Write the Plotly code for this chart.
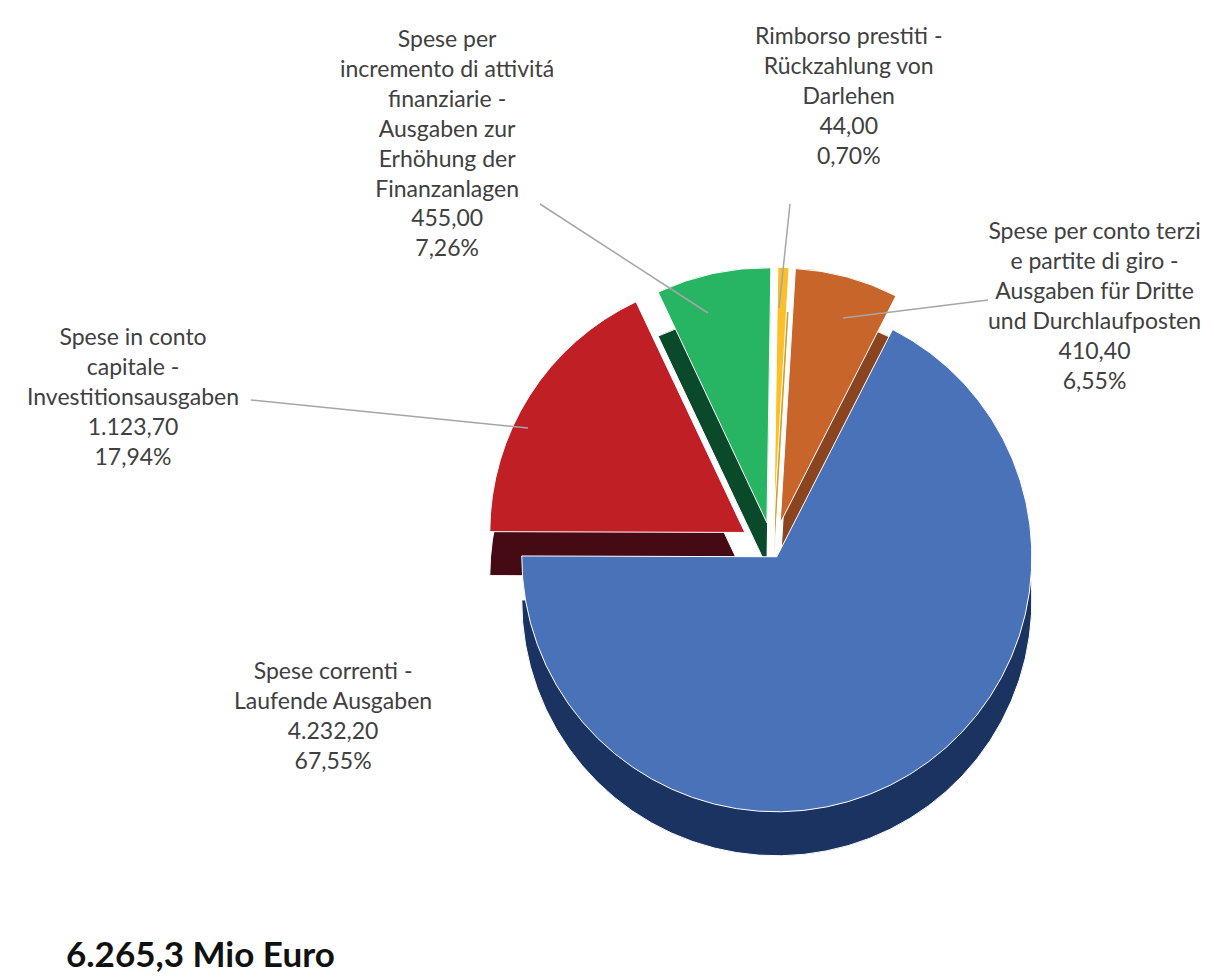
import plotly.graph_objects as go

# ---- data ----
labels = [
    "Spese correnti -<br>Laufende Ausgaben",
    "Spese in conto<br>capitale -<br>Investitionsausgaben",
    "Spese per<br>incremento di attivitá<br>finanziarie -<br>Ausgaben zur<br>Erhöhung der<br>Finanzanlagen",
    "Rimborso prestiti -<br>Rückzahlung von<br>Darlehen",
    "Spese per conto terzi<br>e partite di giro -<br>Ausgaben für Dritte<br>und Durchlaufposten",
]
values = [4232.20, 1123.70, 455.00, 44.00, 410.40]
value_text = ["4.232,20", "1.123,70", "455,00", "44,00", "410,40"]
pct_text = ["67,55%", "17,94%", "7,26%", "0,70%", "6,55%"]
total_text = "6.265,3 Mio Euro"

# ---- style ----
top_colors = ["#4a72b8", "#c01f26", "#27b463", "#fbbf2a", "#c8652a"]
side_colors = ["#1b3360", "#450a14", "#0a4a2a", "#cfa030", "#8a4420"]
pulls = [0.03, 0.13, 0.11, 0.11, 0.11]
label_pos = [  # paper coords of label centres
    (0.268, 0.276),
    (0.103, 0.603),
    (0.362, 0.862),
    (0.692, 0.911),
    (0.895, 0.696),
]
# leader lines (pixel positions converted to paper)
W, H = 1214, 977
leaders = [
    None,
    ((243, 392), (520, 420)),
    ((532, 196), (700, 305)),
    ((782, 196), (771, 300)),
    ((980, 292), (835, 310)),
]

fig = go.Figure()
dom_x = [0.30, 0.96]
dom_y = [0.15, 0.74]
depth = 0.045

# depth (side) layer
fig.add_trace(go.Pie(
    values=values, labels=[l.replace("<br>", " ") for l in labels],
    sort=False, direction="clockwise", rotation=27, pull=pulls,
    marker=dict(colors=side_colors, line=dict(color="white", width=1)),
    textinfo="none", hoverinfo="skip", showlegend=False,
    domain=dict(x=dom_x, y=[dom_y[0] - depth, dom_y[1] - depth]),
))
# top layer
fig.add_trace(go.Pie(
    values=values, labels=[l.replace("<br>", " ") for l in labels],
    sort=False, direction="clockwise", rotation=27, pull=pulls,
    marker=dict(colors=top_colors, line=dict(color="white", width=1)),
    textinfo="none", showlegend=False,
    domain=dict(x=dom_x, y=dom_y),
))

for ld in leaders:
    if ld is None:
        continue
    (x0, y0), (x1, y1) = ld
    fig.add_shape(type="line", xref="paper", yref="paper",
                  x0=x0 / W, y0=1 - y0 / H, x1=x1 / W, y1=1 - y1 / H,
                  line=dict(color="#a6a6a6", width=1.5))

for lab, vt, pt, (x, y) in zip(labels, value_text, pct_text, label_pos):
    fig.add_annotation(
        x=x, y=y, xref="paper", yref="paper", xanchor="center", yanchor="middle",
        text=f"{lab}<br>{vt}<br>{pt}", showarrow=False, align="center",
        font=dict(family="Lato, Open Sans, sans-serif", size=23, color="#404040"),
    )

fig.add_annotation(
    x=0.046, y=0.033, xref="paper", yref="paper", xanchor="left", yanchor="middle",
    text=f"<b>{total_text}</b>", showarrow=False,
    font=dict(family="Lato, Open Sans, sans-serif", size=35, color="#111111"),
)

fig.update_layout(
    width=W, height=H, margin=dict(l=0, r=0, t=0, b=0),
    paper_bgcolor="white", plot_bgcolor="white",
)
fig.write_html("out.html")
